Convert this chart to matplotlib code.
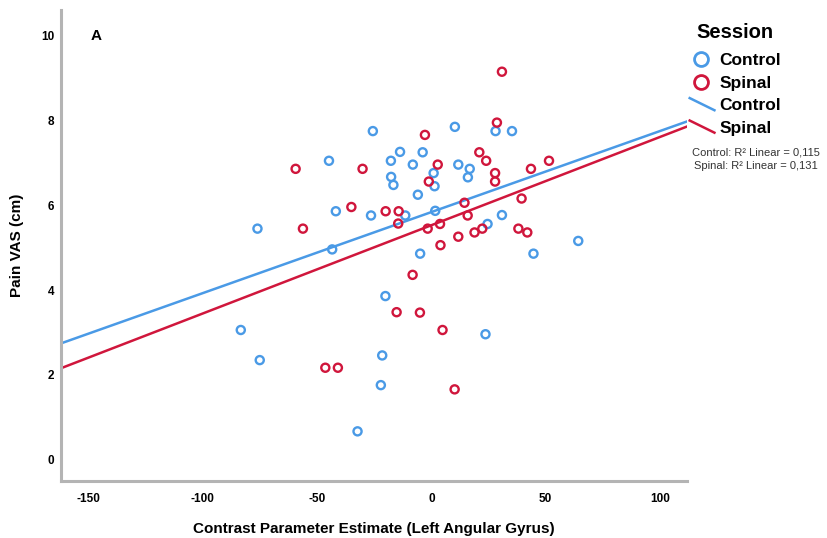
import matplotlib
matplotlib.use("Agg")
import matplotlib.pyplot as plt
from matplotlib.lines import Line2D
from matplotlib.legend_handler import HandlerBase
import numpy as np

# data
control_x = [-76.1, -83.4, -75.1, -44.8, -25.6, -17.7, -13.7, -8.1, -3.8, -17.6,
             -16.6, 1.0, 1.4, -5.9, 10.3, 28.1, 35.3, 11.8, 16.8, 16.0,
             -41.8, -26.4, -11.4, 1.7, 30.9, 24.6, -43.4, -4.9, 44.7, 64.3,
             -20.1, 23.7, -21.5, -22.1, -32.3]
control_y = [5.45, 3.06, 2.35, 7.05, 7.75, 7.05, 7.26, 6.96, 7.25, 6.67,
             6.48, 6.76, 6.45, 6.25, 7.85, 7.75, 7.75, 6.96, 6.86, 6.66,
             5.86, 5.76, 5.76, 5.87, 5.77, 5.56, 4.96, 4.86, 4.86, 5.16,
             3.86, 2.96, 2.46, 1.76, 0.67]

spinal_x = [-59.4, -30.1, -2.8, 2.8, -1.1, 30.9, 28.7, 21.0, 24.0, 27.9,
            27.9, 43.6, 51.5, 39.5, -56.2, -35.0, -20.0, -14.3, -14.5, 14.5,
            15.9, 3.8, -1.6, 11.8, 18.9, 22.3, 38.1, 42.0, 4.0, -8.2,
            -15.2, -5.0, 4.9, -46.4, -40.9, 10.2]
spinal_y = [6.86, 6.86, 7.66, 6.96, 6.56, 9.15, 7.95, 7.25, 7.05, 6.76,
            6.56, 6.86, 7.05, 6.16, 5.45, 5.96, 5.86, 5.86, 5.57, 6.06,
            5.76, 5.56, 5.45, 5.26, 5.36, 5.45, 5.45, 5.36, 5.06, 4.36,
            3.48, 3.47, 3.06, 2.17, 2.17, 1.66]

# fitted lines (slope, intercept) and R squared as shown
control_fit = (0.0191, 5.84)
spinal_fit = (0.0208, 5.53)
r2_control = 0.115
r2_spinal = 0.131

blue = "#4a9ae6"
red = "#d0163c"

plt.rcParams["font.family"] = ["Liberation Sans", "DejaVu Sans"]
plt.rcParams["axes.unicode_minus"] = False

fig = plt.figure(figsize=(8.27, 5.38), dpi=100)
ax = fig.add_axes([0.074, 0.106, 0.757, 0.875])

xlim = (-162, 112)
ax.set_xlim(xlim)
ax.set_ylim(-0.5, 10.6)

ax.scatter(control_x, control_y, s=34, facecolors="none", edgecolors=blue,
           linewidths=1.7, zorder=3)
ax.scatter(spinal_x, spinal_y, s=34, facecolors="none", edgecolors=red,
           linewidths=1.7, zorder=3)

xs = np.array(xlim)
ax.plot(xs, control_fit[0] * xs + control_fit[1], color=blue, lw=1.8, zorder=2)
ax.plot(xs, spinal_fit[0] * xs + spinal_fit[1], color=red, lw=1.8, zorder=2)

for s in ["top", "right"]:
    ax.spines[s].set_visible(False)
for s in ["left", "bottom"]:
    ax.spines[s].set_color("#b4b4b4")
    ax.spines[s].set_linewidth(2.2)

ax.set_xticks([-150, -100, -50, 0, 50, 100])
ax.set_yticks([0, 2, 4, 6, 8, 10])
ax.tick_params(axis="y", length=0, pad=5)
ax.tick_params(axis="x", length=0, pad=9)
for lab in ax.get_xticklabels() + ax.get_yticklabels():
    lab.set_fontweight("bold")
    lab.set_fontsize(8.5)

ax.set_xlabel("Contrast Parameter Estimate (Left Angular Gyrus)",
              fontsize=11, fontweight="bold", va="center")
ax.xaxis.set_label_coords(0.5, -0.101)
ax.set_ylabel("Pain VAS (cm)", fontsize=11, fontweight="bold", va="center")
ax.yaxis.set_label_coords(-0.07, 0.5)

ax.text(-149, 10.0, "A", fontsize=11, fontweight="bold", va="center")


class SlantHandler(HandlerBase):
    def create_artists(self, legend, orig, xdescent, ydescent, width, height,
                       fontsize, trans):
        line = Line2D([width * 0.05, width * 1.0],
                      [height * 1.0, height * 0.0],
                      color=orig.get_color(), lw=orig.get_linewidth())
        line.set_transform(trans)
        return [line]


h_c = Line2D([], [], ls="none", marker="o", ms=10, mfc="none", mec=blue, mew=2)
h_s = Line2D([], [], ls="none", marker="o", ms=10, mfc="none", mec=red, mew=2)
l_c = Line2D([], [], color=blue, lw=1.8)
l_s = Line2D([], [], color=red, lw=1.8)

leg = ax.legend([h_c, h_s, l_c, l_s], ["Control", "Spinal", "Control", "Spinal"],
                handler_map={l_c: SlantHandler(), l_s: SlantHandler()},
                title="Session", loc="upper left",
                bbox_to_anchor=(0.824, 0.97), bbox_transform=fig.transFigure,
                frameon=False, handlelength=1.5, handletextpad=0.3,
                labelspacing=0.42, borderaxespad=0,
                prop={"weight": "bold", "size": 12.5})
leg.get_title().set_fontweight("bold")
leg.get_title().set_fontsize(14.5)
leg._legend_box.sep = 8

fig.text(0.914, 0.717, f"Control: R² Linear = {r2_control:.3f}".replace(".", ","),
         fontsize=8, ha="center", va="center", color="#333333")
fig.text(0.914, 0.691, f"Spinal: R² Linear = {r2_spinal:.3f}".replace(".", ","),
         fontsize=8, ha="center", va="center", color="#333333")

fig.savefig("out.png", dpi=100)
